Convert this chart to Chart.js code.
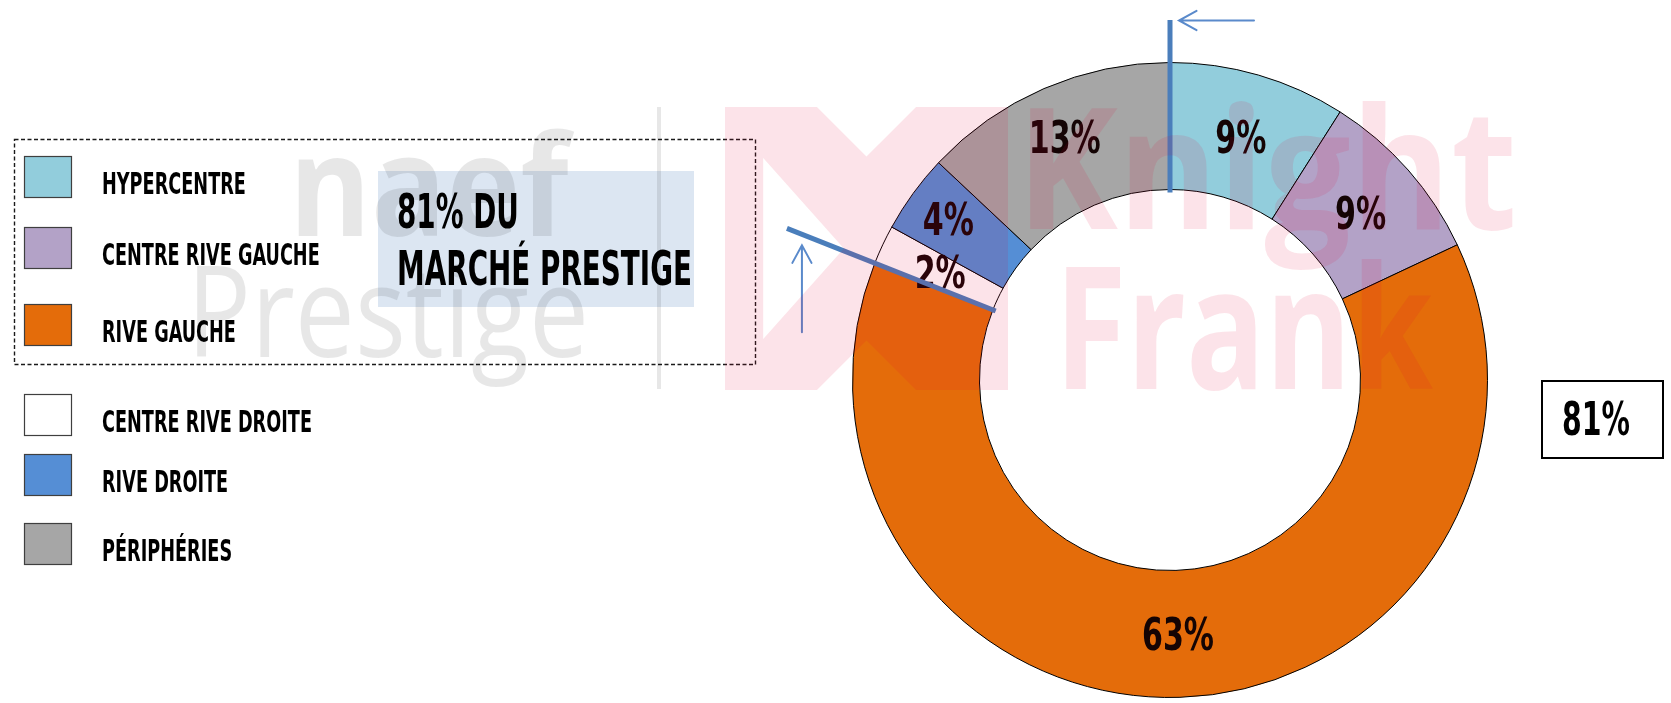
<!DOCTYPE html>
<html>
<head>
<meta charset="utf-8">
<script src="https://cdn.jsdelivr.net/npm/chart.js@4.4.1/dist/chart.umd.min.js"></script>
<style>
  html, body { margin: 0; padding: 0; background: #ffffff; overflow: hidden; }
  #wrap { position: relative; width: 1671px; height: 703px; }
</style>
</head>
<body>
<div id="wrap"><canvas id="chart"></canvas></div>
<script>
// Répartition du marché prestige par zone (en %)
const categories = ['HYPERCENTRE', 'CENTRE RIVE GAUCHE', 'RIVE GAUCHE', 'CENTRE RIVE DROITE', 'RIVE DROITE', 'PÉRIPHÉRIES'];
const shares = [9, 9, 63, 2, 4, 13];
const sliceColors = ['#92CDDC', '#B3A2C7', '#E46C0A', '#FFFFFF', '#558ED5', '#A6A6A6'];
// The first three zones form the highlighted group
const groupSize = 3;
const groupShare = shares.slice(0, groupSize).reduce((a, b) => a + b, 0);
const calloutLines = [groupShare + '% DU', 'MARCHÉ PRESTIGE'];
const watermarkWords = ['naef', 'Prestige', 'Knight', 'Frank'];

const CONDENSED = "'Liberation Sans Narrow', 'DejaVu Sans Condensed', 'Arial Narrow', sans-serif";
const SANS = "'Open Sans', 'Roboto', 'DejaVu Sans', sans-serif";

// Layout of the side legend (row tops, square size, text column)
const legendLayout = {
  squareX: 24, squareW: 47, squareH: 41,
  rowTops: [156, 227, 304, 394, 454, 523],
  textX: 102, textDrop: 6,
  groupBox: { x: 14, y: 139, w: 741, h: 225 }
};

// Outward nudge of the small-slice labels (px, along the slice bisector)
const labelPush = [0, 0, 0, 0, 20, 11];

// Text style roles: cap height and a sample string with its target width
const textRoles = {
  legend:  { weight: 'bold', family: CONDENSED, cap: 22, sample: 'CENTRE RIVE DROITE', width: 210, color: '#000000' },
  slice:   { weight: 'bold', family: CONDENSED, cap: 33, sample: '63%', width: 72, color: '#140404' },
  callout: { weight: 'bold', family: CONDENSED, cap: 35, sample: 'MARCHÉ PRESTIGE', width: 295, color: '#000000' },
  total:   { weight: 'bold', family: CONDENSED, cap: 34, sample: '81%', width: 68, color: '#000000' }
};

function resolveRole(ctx, role) {
  if (role._size) return role;
  ctx.save();
  ctx.font = role.weight + ' 100px ' + role.family;
  const asc = ctx.measureText('H').actualBoundingBoxAscent || 72;
  role._size = role.cap * 100 / asc;
  ctx.font = role.weight + ' ' + role._size + 'px ' + role.family;
  role._sx = role.width / ctx.measureText(role.sample).width;
  ctx.restore();
  return role;
}

// Draw text horizontally compressed; align: 'left' | 'center'
function drawRoleText(ctx, role, text, x, baseline, align) {
  resolveRole(ctx, role);
  ctx.save();
  ctx.font = role.weight + ' ' + role._size + 'px ' + role.family;
  ctx.fillStyle = role.color;
  ctx.textBaseline = 'alphabetic';
  ctx.textAlign = 'left';
  const w = ctx.measureText(text).width * role._sx;
  const left = align === 'center' ? x - w / 2 : x;
  ctx.translate(left, baseline);
  ctx.scale(role._sx, 1);
  ctx.fillText(text, 0, 0);
  ctx.restore();
}

// Fit a word into a box: height measured on a reference glyph, width stretched to span
function drawFittedWord(ctx, text, weight, family, refGlyph, refHeight, left, baseline, span, color) {
  ctx.save();
  ctx.font = weight + ' 100px ' + family;
  const asc = ctx.measureText(refGlyph).actualBoundingBoxAscent || 72;
  const size = refHeight * 100 / asc;
  ctx.font = weight + ' ' + size + 'px ' + family;
  const m = ctx.measureText(text);
  const sx = span / (m.actualBoundingBoxRight + m.actualBoundingBoxLeft);
  ctx.fillStyle = color;
  ctx.textBaseline = 'alphabetic';
  ctx.translate(left, baseline);
  ctx.scale(sx, 1);
  ctx.fillText(text, m.actualBoundingBoxLeft, 0);
  ctx.restore();
}

function arrow(ctx, tipX, tipY, tailX, tailY, color) {
  const ang = Math.atan2(tipY - tailY, tipX - tailX);
  const len = 20, spread = 0.5;
  ctx.save();
  ctx.strokeStyle = color;
  ctx.lineWidth = 2;
  ctx.lineCap = 'round';
  ctx.beginPath();
  ctx.moveTo(tailX, tailY);
  ctx.lineTo(tipX, tipY);
  ctx.moveTo(tipX - len * Math.cos(ang - spread), tipY - len * Math.sin(ang - spread));
  ctx.lineTo(tipX, tipY);
  ctx.lineTo(tipX - len * Math.cos(ang + spread), tipY - len * Math.sin(ang + spread));
  ctx.stroke();
  ctx.restore();
}

// Square brand mark with notched negative space
function drawMark(ctx, x, y, s, color) {
  const cx = x + s / 2, q = s * 0.175;
  ctx.save();
  ctx.fillStyle = color;
  ctx.beginPath();
  ctx.moveTo(x, y);
  ctx.lineTo(cx - q, y);
  ctx.lineTo(cx, y + q);
  ctx.lineTo(cx + q, y);
  ctx.lineTo(x + s, y);
  ctx.lineTo(x + s, y + s);
  ctx.lineTo(cx + q, y + s);
  ctx.lineTo(cx, y + s - q);
  ctx.lineTo(cx - q, y + s);
  ctx.lineTo(x, y + s);
  ctx.closePath();
  // left notch pointing to the centre
  ctx.moveTo(x + s * 0.135, y + s * 0.18);
  ctx.lineTo(x + s * 0.135, y + s * 0.82);
  ctx.lineTo(x + s * 0.42, y + s * 0.5);
  ctx.closePath();
  ctx.fill('evenodd');
  ctx.restore();
}

const decorPlugin = {
  id: 'decor',
  beforeDatasetsDraw(chart) {
    const ctx = chart.ctx;
    ctx.save();
    const L = legendLayout;
    categories.forEach((name, i) => {
      const top = L.rowTops[i];
      ctx.fillStyle = sliceColors[i];
      ctx.fillRect(L.squareX, top, L.squareW, L.squareH);
      ctx.strokeStyle = '#3f3f3f';
      ctx.lineWidth = 1.2;
      ctx.strokeRect(L.squareX + 0.5, top + 0.5, L.squareW, L.squareH);
      drawRoleText(ctx, textRoles.legend, name, L.textX, top + L.squareH / 2 + textRoles.legend.cap / 2 + L.textDrop, 'left');
    });
    // Dashed frame around the grouped zones
    ctx.setLineDash([4, 2.5]);
    ctx.strokeStyle = '#1a1a1a';
    ctx.lineWidth = 1.4;
    const g = L.groupBox;
    ctx.strokeRect(g.x + 0.5, g.y + 0.5, g.w, g.h);
    ctx.setLineDash([]);
    // Callout panel
    ctx.fillStyle = '#DCE6F2';
    ctx.fillRect(378, 171, 316, 136);
    drawRoleText(ctx, textRoles.callout, calloutLines[0], 397, 228, 'left');
    drawRoleText(ctx, textRoles.callout, calloutLines[1], 397, 285, 'left');
    // Total box
    ctx.strokeStyle = '#000000';
    ctx.lineWidth = 2;
    ctx.strokeRect(1542, 381, 121, 77);
    drawRoleText(ctx, textRoles.total, groupShare + '%', 1596, 435, 'center');
    ctx.restore();
  },
  afterDatasetsDraw(chart) {
    const ctx = chart.ctx;
    const meta = chart.getDatasetMeta(0);
    const arcs = meta.data;
    const cx = arcs[0].x, cy = arcs[0].y;
    // Slice labels
    arcs.forEach((arc, i) => {
      const p = arc.getCenterPoint();
      const mid = (arc.startAngle + arc.endAngle) / 2;
      const px = p.x + labelPush[i] * Math.cos(mid);
      const py = p.y + labelPush[i] * Math.sin(mid);
      drawRoleText(ctx, textRoles.slice, shares[i] + '%', px, py + textRoles.slice.cap / 2, 'center');
    });
    // Radial markers bounding the grouped share
    const lineColor = '#4A7EBB';
    const startA = arcs[0].startAngle;
    const endA = arcs[groupSize - 1].endAngle;
    const inner = arcs[0].innerRadius - 3;
    const marks = [
      { a: startA, r: 360 },
      { a: endA, r: 412 }
    ];
    ctx.save();
    ctx.strokeStyle = lineColor;
    ctx.lineWidth = 5;
    marks.forEach(m => {
      ctx.beginPath();
      ctx.moveTo(cx + inner * Math.cos(m.a), cy + inner * Math.sin(m.a));
      ctx.lineTo(cx + m.r * Math.cos(m.a), cy + m.r * Math.sin(m.a));
      ctx.stroke();
      m.ex = cx + m.r * Math.cos(m.a);
      m.ey = cy + m.r * Math.sin(m.a);
    });
    ctx.restore();
    const arrowColor = '#5A8ACB';
    arrow(ctx, marks[0].ex + 9, marks[0].ey + 0.5, marks[0].ex + 84, marks[0].ey + 0.5, arrowColor);
    arrow(ctx, marks[1].ex + 15, marks[1].ey + 17, marks[1].ex + 15, marks[1].ey + 104, arrowColor);
  },
  afterDraw(chart) {
    const ctx = chart.ctx;
    ctx.save();
    // naef Prestige mark
    const grey = 'rgba(0,0,0,0.095)';
    drawFittedWord(ctx, watermarkWords[0], 'bold', SANS, 'n', 78, 298, 236, 277, grey);
    drawFittedWord(ctx, watermarkWords[1], 'normal', SANS, 'P', 91, 197, 357, 387, grey);
    ctx.fillStyle = grey;
    ctx.fillRect(657, 107, 4, 282);
    // Knight Frank mark
    const pink = 'rgba(228,0,58,0.11)';
    drawMark(ctx, 725, 107, 283, pink);
    drawFittedWord(ctx, watermarkWords[2], 'bold', SANS, 'K', 122, 1030, 229, 483, pink);
    drawFittedWord(ctx, watermarkWords[3], 'bold', SANS, 'F', 123, 1066, 389, 367, pink);
    ctx.restore();
  }
};

new Chart(document.getElementById('chart'), {
  type: 'doughnut',
  data: {
    labels: categories,
    datasets: [{
      data: shares,
      backgroundColor: sliceColors,
      borderColor: '#000000',
      borderWidth: 1,
      hoverOffset: 0
    }]
  },
  options: {
    responsive: true,
    maintainAspectRatio: false,
    animation: false,
    events: [],
    cutout: '60%',
    layout: { padding: { left: 852, right: 183, top: 62, bottom: 5 } },
    plugins: {
      legend: { display: false },
      tooltip: { enabled: false },
      title: { display: false }
    }
  },
  plugins: [decorPlugin]
});
</script>
</body>
</html>
